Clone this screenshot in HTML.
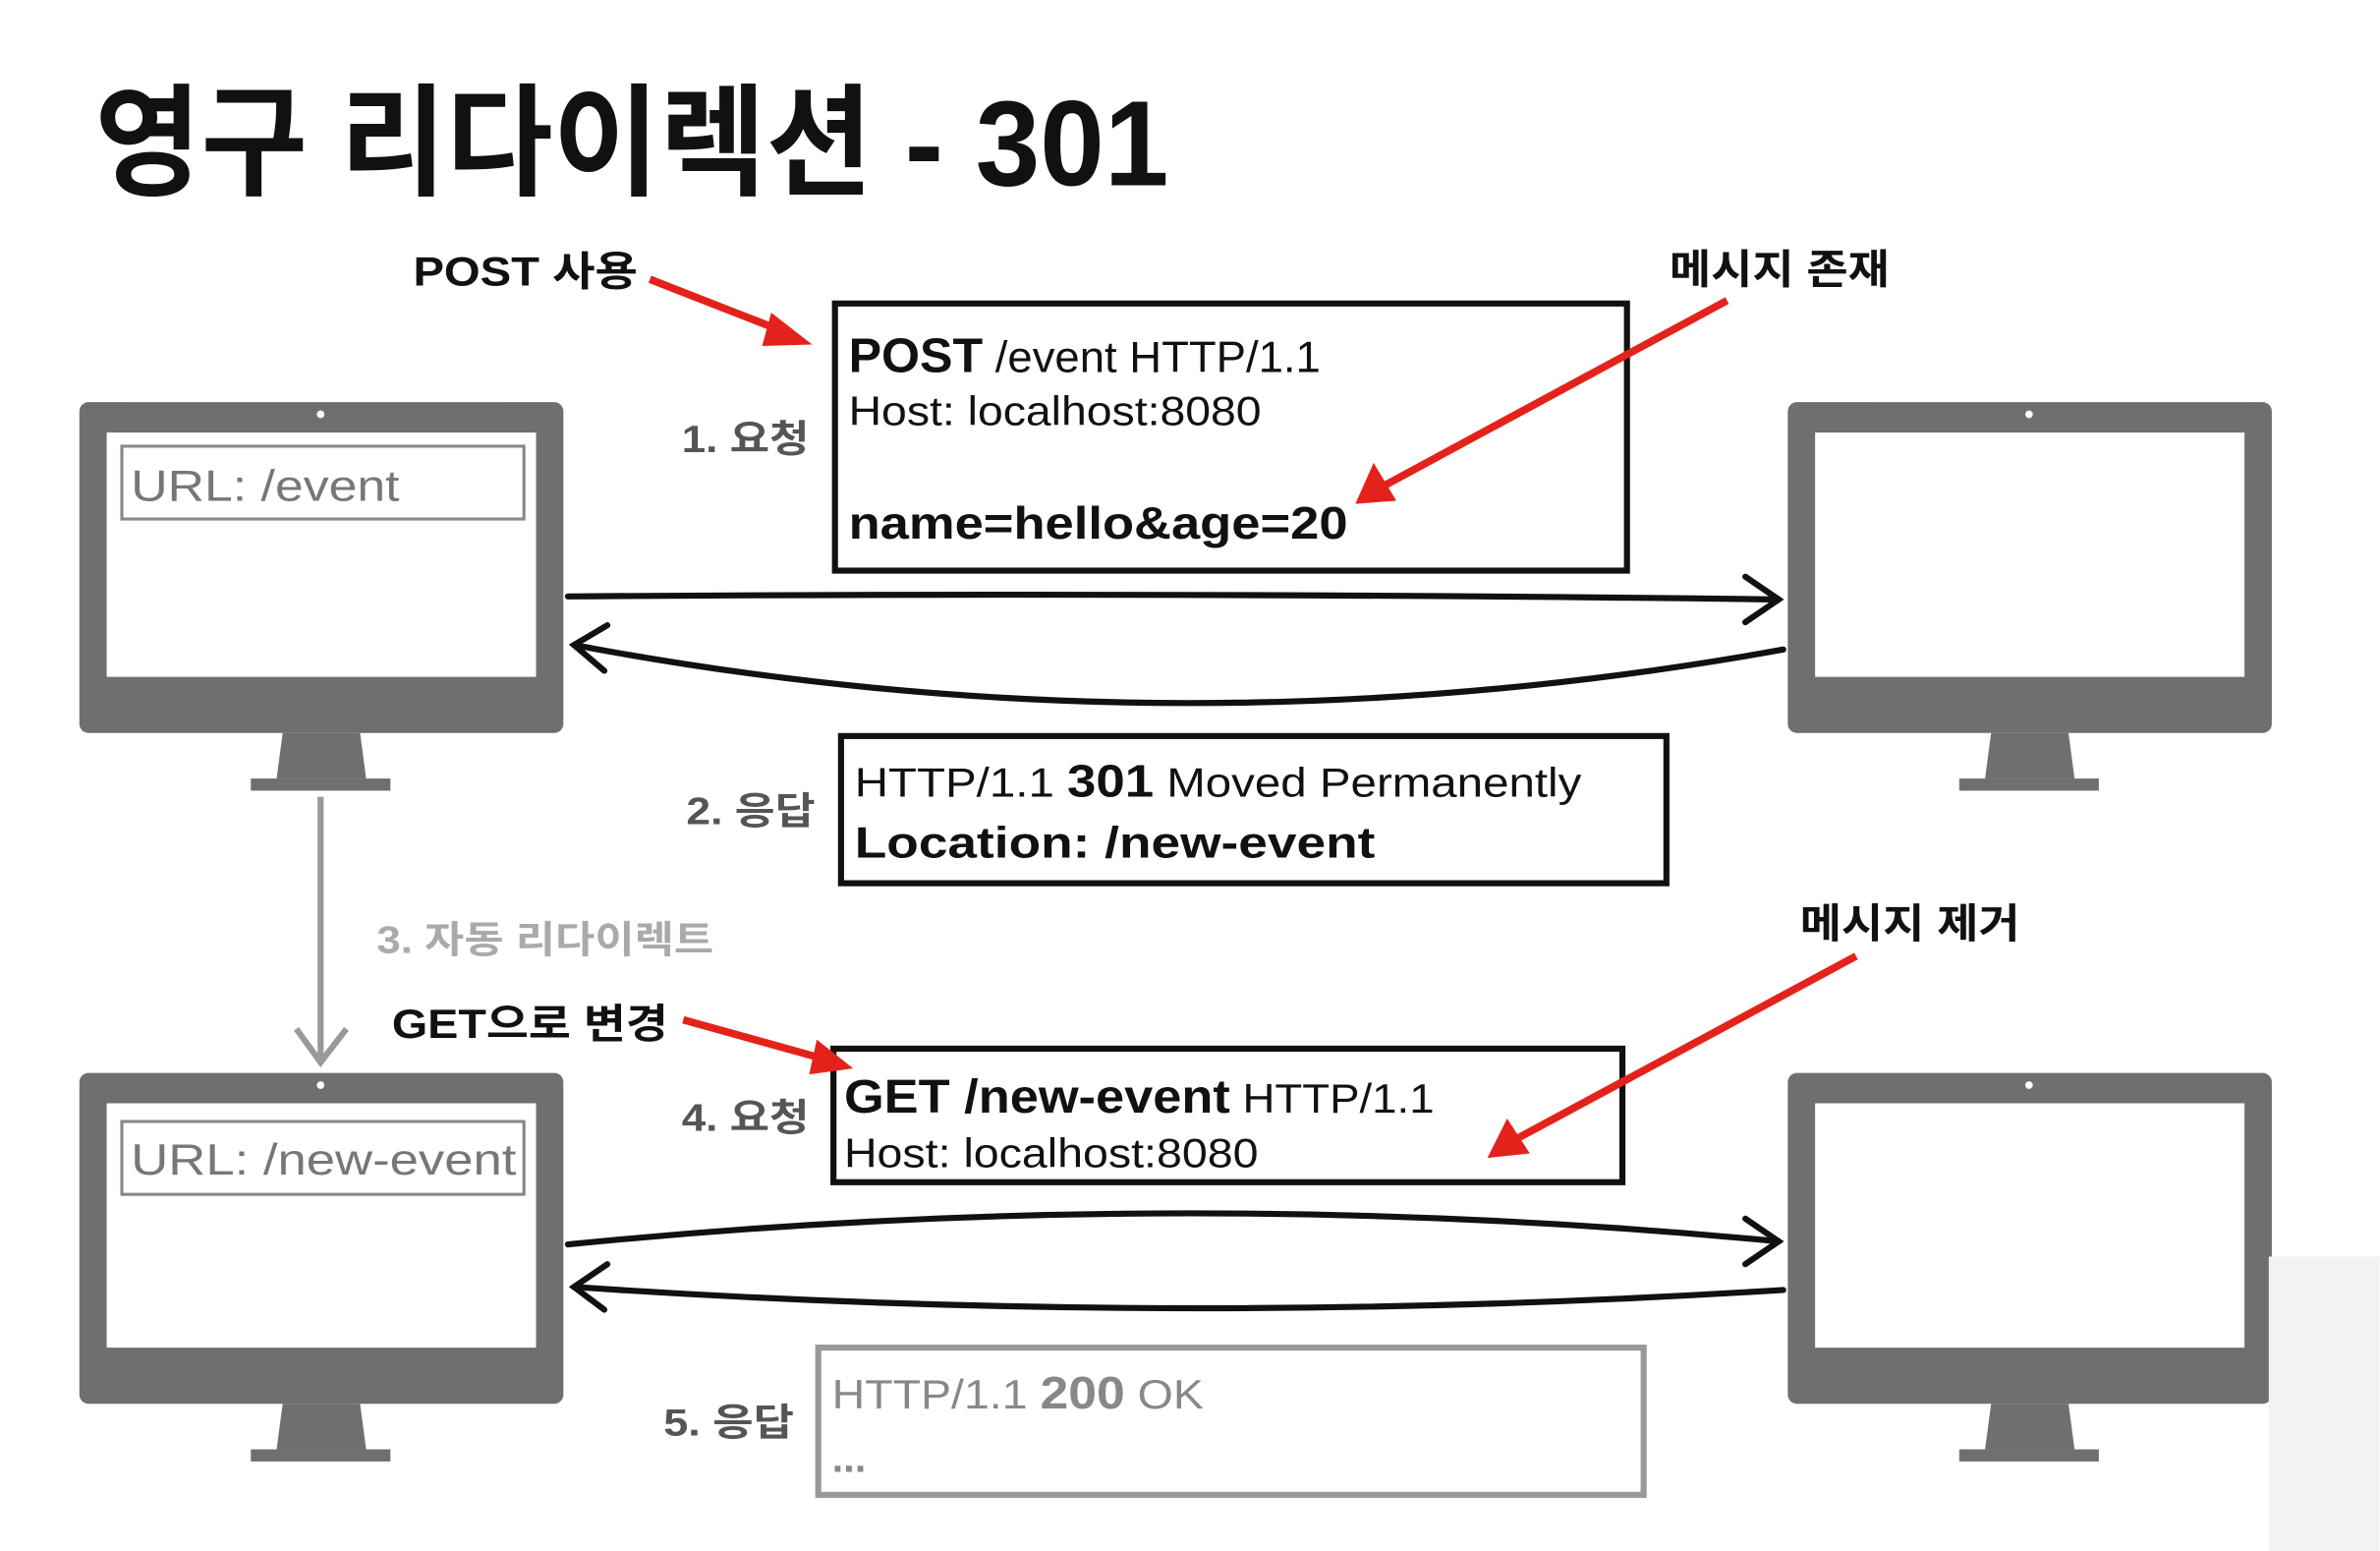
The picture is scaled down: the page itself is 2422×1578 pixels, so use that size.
<!DOCTYPE html>
<html><head><meta charset="utf-8"><style>
html,body{margin:0;padding:0;background:#fff;}
svg{display:block;}
text{font-family:"Liberation Sans","Noto Sans CJK KR",sans-serif;}
</style></head><body>
<svg width="2422" height="1578" viewBox="0 0 1568 1022" xmlns="http://www.w3.org/2000/svg">
<defs>
<g id="mon">
<rect x="0" y="0" width="319" height="218" rx="6" fill="#6f6f6f"/>
<rect x="18" y="20" width="283" height="161" fill="#fff"/>
<circle cx="159" cy="8" r="2.5" fill="#fff"/>
<polygon points="134,218 185,218 189,248 130,248" fill="#6f6f6f"/>
<rect x="113" y="248" width="92" height="8" fill="#6f6f6f"/>
</g>
</defs>
<text x="62" y="122" font-size="80" font-weight="bold" fill="#111" textLength="708" lengthAdjust="spacingAndGlyphs">영구 리다이렉션 - 301</text>

<use href="#mon" x="52" y="265"/>
<use href="#mon" x="1178" y="265"/>
<use href="#mon" x="52" y="707"/>
<use href="#mon" x="1178" y="707"/>

<rect x="80" y="294" width="265" height="48" fill="#fff" stroke="#888" stroke-width="2"/>
<text x="86" y="330" font-size="29" fill="#777" textLength="177" lengthAdjust="spacingAndGlyphs">URL: /event</text>
<rect x="80" y="739" width="265" height="48" fill="#fff" stroke="#888" stroke-width="2"/>
<text x="86" y="774" font-size="29" fill="#777" textLength="254" lengthAdjust="spacingAndGlyphs">URL: /new-event</text>

<rect x="550" y="200" width="522" height="176" fill="none" stroke="#111" stroke-width="4"/>
<text x="559" y="245" font-size="29" fill="#111" textLength="311" lengthAdjust="spacingAndGlyphs"><tspan font-weight="bold" font-size="32">POST</tspan> /event HTTP/1.1</text>
<text x="559" y="280" font-size="27" fill="#111" textLength="272" lengthAdjust="spacingAndGlyphs">Host: localhost:8080</text>
<text x="559" y="355" font-size="30" font-weight="bold" fill="#111" textLength="329" lengthAdjust="spacingAndGlyphs">name=hello&amp;age=20</text>

<rect x="554" y="485" width="544" height="97" fill="none" stroke="#111" stroke-width="4"/>
<text x="563" y="525" font-size="27" fill="#111" textLength="479" lengthAdjust="spacingAndGlyphs">HTTP/1.1 <tspan font-weight="bold" font-size="30">301</tspan> Moved Permanently</text>
<text x="563" y="565" font-size="29" font-weight="bold" fill="#111" textLength="343" lengthAdjust="spacingAndGlyphs">Location: /new-event</text>

<rect x="549" y="691" width="520" height="88" fill="none" stroke="#111" stroke-width="4"/>
<text x="556" y="733" font-size="27" fill="#111" textLength="389" lengthAdjust="spacingAndGlyphs"><tspan font-weight="bold" font-size="31">GET /new-event</tspan> HTTP/1.1</text>
<text x="556" y="769" font-size="27" fill="#111" textLength="273" lengthAdjust="spacingAndGlyphs">Host: localhost:8080</text>

<rect x="539" y="888" width="544" height="97" fill="none" stroke="#999" stroke-width="4"/>
<text x="548" y="928" font-size="27" fill="#888" textLength="245" lengthAdjust="spacingAndGlyphs">HTTP/1.1 <tspan font-weight="bold" font-size="30">200</tspan> OK</text>
<text x="548" y="970" font-size="27" font-weight="bold" fill="#888">...</text>

<text x="449" y="298" font-size="25" font-weight="bold" fill="#555" textLength="84" lengthAdjust="spacingAndGlyphs">1. 요청</text>
<text x="452" y="543" font-size="25" font-weight="bold" fill="#555" textLength="85" lengthAdjust="spacingAndGlyphs">2. 응답</text>
<text x="248" y="628" font-size="25" font-weight="bold" fill="#aaa" textLength="222" lengthAdjust="spacingAndGlyphs">3. 자동 리다이렉트</text>
<text x="449" y="745" font-size="25" font-weight="bold" fill="#555" textLength="84" lengthAdjust="spacingAndGlyphs">4. 요청</text>
<text x="437" y="946" font-size="25" font-weight="bold" fill="#555" textLength="86" lengthAdjust="spacingAndGlyphs">5. 응답</text>
<text x="272" y="188" font-size="27" font-weight="bold" fill="#111" textLength="148" lengthAdjust="spacingAndGlyphs">POST 사용</text>
<text x="1100" y="187" font-size="27" font-weight="bold" fill="#111" textLength="145" lengthAdjust="spacingAndGlyphs">메시지 존재</text>
<text x="1186" y="618" font-size="27" font-weight="bold" fill="#111" textLength="145" lengthAdjust="spacingAndGlyphs">메시지 제거</text>
<text x="258" y="684" font-size="27" font-weight="bold" fill="#111" textLength="182" lengthAdjust="spacingAndGlyphs">GET으로 변경</text>

<g fill="none" stroke="#111" stroke-width="4" stroke-linecap="round">
<path d="M374 393 Q775 390 1172 395"/>
<path d="M1150 380 L1172 395 L1150 410"/>
<path d="M1175 428 Q775 500 378 425"/>
<path d="M400 412 L378 425 L398 442"/>
<path d="M374 820 Q775 780 1172 818"/>
<path d="M1150 803 L1172 818 L1150 833"/>
<path d="M1175 850 Q775 875 378 848"/>
<path d="M400 833 L378 848 L398 863"/>
</g>
<g fill="none" stroke="#999" stroke-width="4">
<path d="M211 525 L211 700"/>
<path d="M195 678 L211 700 L228 678"/>
</g>
<g stroke="#e3231b" stroke-width="5" fill="#e3231b">
<line x1="428" y1="184" x2="515" y2="218"/>
<polygon points="535,227 508,206 502,228" stroke="none"/>
<line x1="1138" y1="198" x2="912" y2="320"/>
<polygon points="893,332 905,305 920,330" stroke="none"/>
<line x1="450" y1="672" x2="540" y2="697"/>
<polygon points="562,704 538,685 533,708" stroke="none"/>
<line x1="1223" y1="630" x2="1000" y2="750"/>
<polygon points="980,763 993,737 1008,760" stroke="none"/>
</g>
<rect x="1495" y="828" width="73" height="194" fill="#f2f2f2"/>
</svg>
</body></html>
